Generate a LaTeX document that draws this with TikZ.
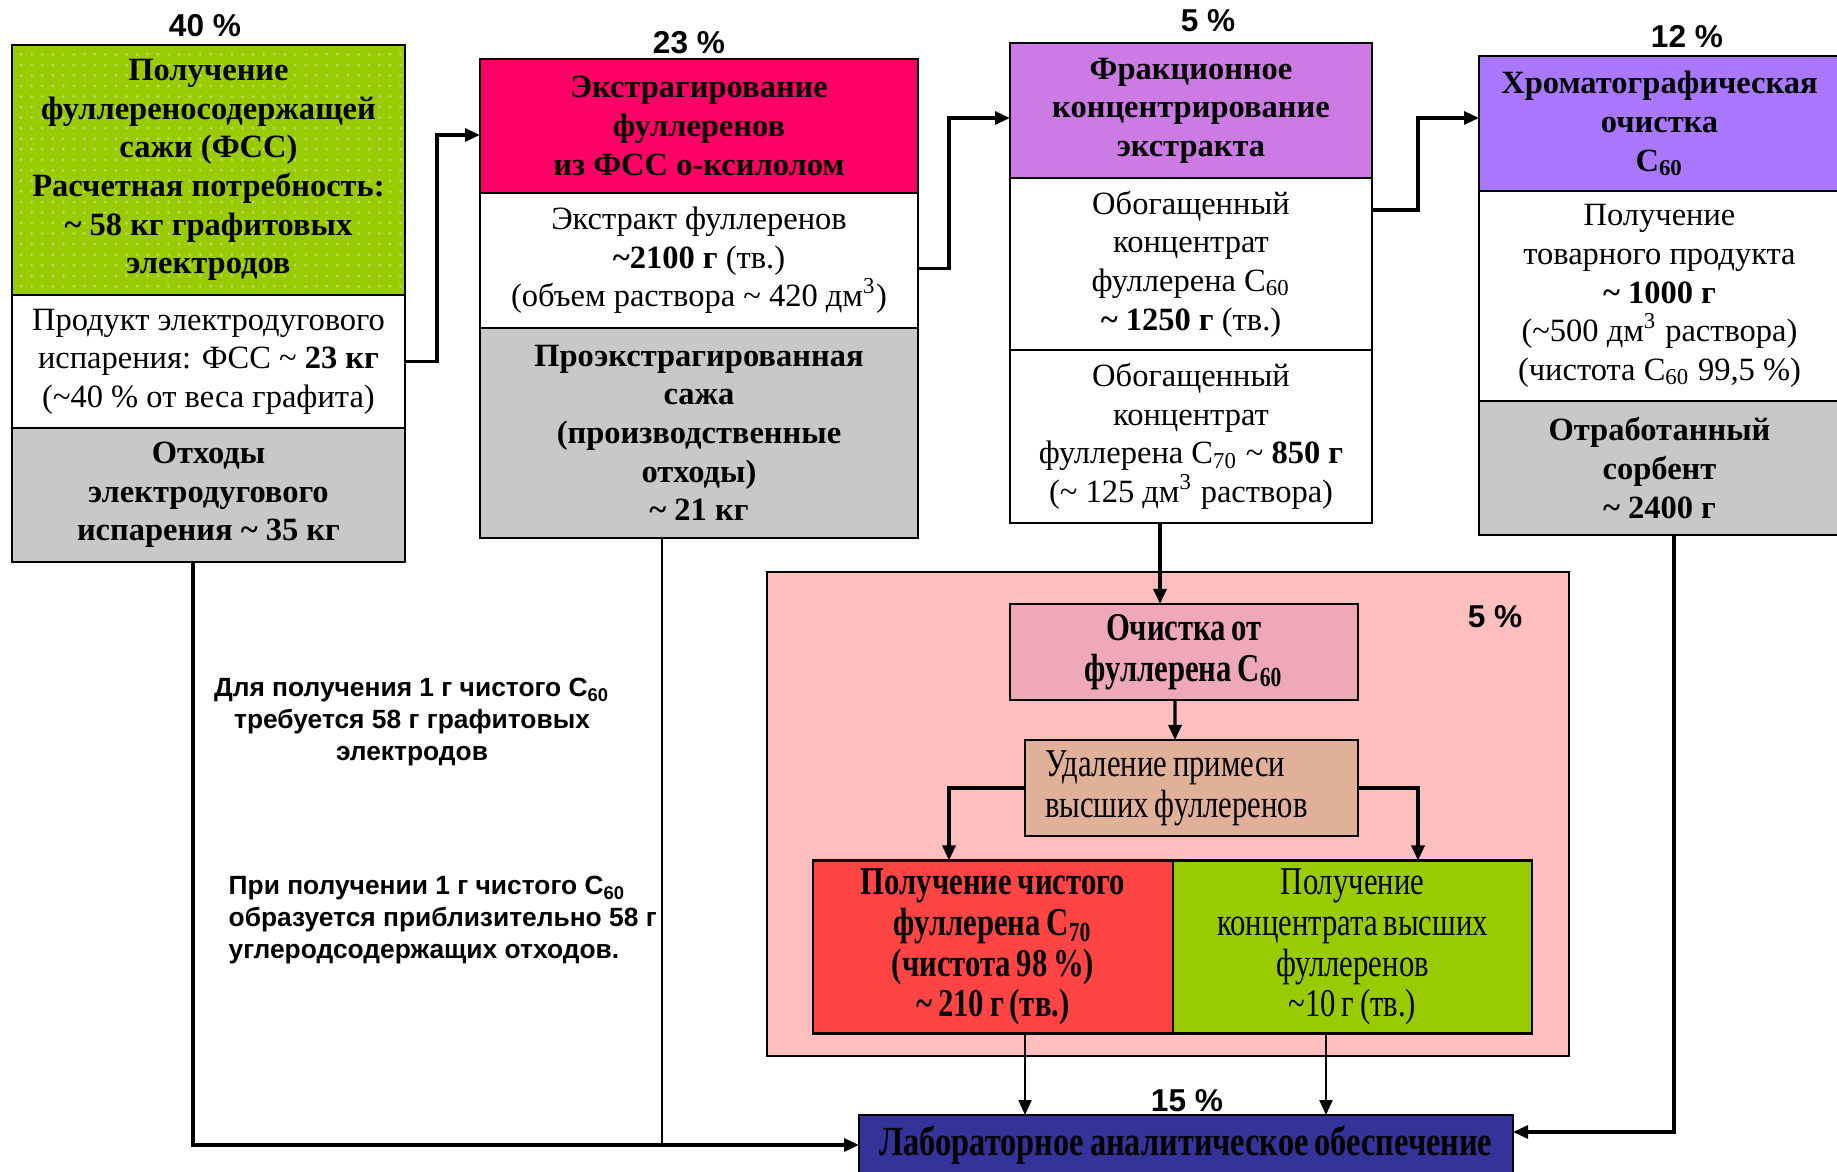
\documentclass[tikz,border=0pt]{standalone}
\usepackage{fontspec}
\setmainfont{Liberation Serif}
\setsansfont{Liberation Sans}
\newfontfamily\narrowfont[FakeStretch=0.78,WordSpace=0.75]{Liberation Serif}
\usetikzlibrary{arrows.meta,patterns,positioning}
\definecolor{fssgreen}{RGB}{153,204,0}
\definecolor{dotgreen}{RGB}{185,215,95}
\definecolor{extrred}{RGB}{255,0,102}
\definecolor{fraclilac}{RGB}{204,122,228}
\definecolor{chromviolet}{RGB}{170,120,255}
\definecolor{wastegray}{RGB}{200,200,200}
\definecolor{zonepink}{RGB}{255,191,191}
\definecolor{cleanpink}{RGB}{238,168,184}
\definecolor{removetan}{RGB}{224,176,152}
\definecolor{purered}{RGB}{255,68,68}
\definecolor{labblue}{RGB}{51,51,153}
\newcommand{\apx}{\textasciitilde}

\begin{document}
\begin{tikzpicture}[x=0.1mm,y=-0.1mm,
    box/.style={draw,line width=0.6pt,align=center,inner sep=0pt,outer sep=0pt,font=\fontsize{9.25}{11}\selectfont},
    head/.style={box,font=\fontsize{9.25}{11}\selectfont\bfseries},
    narrowbox/.style={box,font=\narrowfont\fontsize{11.2}{11.6}\selectfont},
    narrowhead/.style={box,font=\narrowfont\fontsize{11.2}{11.6}\selectfont\bfseries},
    pct/.style={font=\sffamily\bfseries\fontsize{9}{10}\selectfont},
    note/.style={inner sep=0pt,font=\sffamily\bfseries\fontsize{7.5}{9}\selectfont},
    flow/.style={-{Triangle[length=1.5mm,width=1.3mm]},line width=0.9pt},
    thinflow/.style={flow,line width=0.6pt}]
\useasboundingbox (0,0) rectangle (1837,1172);

\node[head,preaction={fill=fssgreen},pattern=dots,pattern color=dotgreen,minimum width=39.3mm,minimum height=25mm] (fss) at (208.5,170)
    {Получение\\фуллереносодержащей\\сажи (ФСС)\\Расчетная потребность:\\\apx{} 58 кг графитовых\\электродов};
\node[box,fill=white,minimum width=39.3mm,minimum height=13.3mm,below=0pt of fss] (fssprod)
    {Продукт электродугового\\испарения: ФСС \apx{} \textbf{23 кг}\\(\apx40 \% от веса графита)};
\node[head,fill=wastegray,minimum width=39.3mm,minimum height=13.4mm,below=0pt of fssprod] (fsswaste)
    {Отходы\\электродугового\\испарения \apx{} 35 кг};

\node[head,fill=extrred,minimum width=43.8mm,minimum height=13.4mm] (extr) at (699,126)
    {Экстрагирование\\фуллеренов\\из ФСС о-ксилолом};
\node[box,fill=white,minimum width=43.8mm,minimum height=13.5mm,below=0pt of extr] (extrprod)
    {Экстракт фуллеренов\\\textbf{\apx2100 г} (тв.)\\(объем раствора \apx{} 420 дм\textsuperscript{3})};
\node[head,fill=wastegray,minimum width=43.8mm,minimum height=21mm,below=0pt of extrprod] (extrwaste)
    {Проэкстрагированная\\сажа\\(производственные\\отходы)\\\apx{} 21 кг};

\node[head,fill=fraclilac,minimum width=36.2mm,minimum height=13.5mm] (frac) at (1191,110.5)
    {Фракционное\\концентрирование\\экстракта};
\node[box,fill=white,minimum width=36.2mm,minimum height=17.2mm,below=0pt of frac] (fracc60)
    {Обогащенный\\концентрат\\фуллерена C\textsubscript{60}\\\textbf{\apx{} 1250 г} (тв.)};
\node[box,fill=white,minimum width=36.2mm,minimum height=17.3mm,below=0pt of fracc60] (fracc70)
    {Обогащенный\\концентрат\\фуллерена C\textsubscript{70} \apx{} \textbf{850 г}\\(\apx{} 125 дм\textsuperscript{3} раствора)};

\node[head,fill=chromviolet,minimum width=36.1mm,minimum height=13.5mm] (chrom) at (1659.5,123.5)
    {Хроматографическая\\очистка\\C\textsubscript{60}};
\node[box,fill=white,minimum width=36.1mm,minimum height=21mm,below=0pt of chrom] (chromprod)
    {Получение\\товарного продукта\\\textbf{\apx{} 1000 г}\\(\apx500 дм\textsuperscript{3} раствора)\\(чистота C\textsubscript{60} 99,5 \%)};
\node[head,fill=wastegray,minimum width=36.1mm,minimum height=13.4mm,below=0pt of chromprod] (chromwaste)
    {Отработанный\\сорбент\\\apx{} 2400 г};

\node[pct] (p40) at (205,26) {40 \%};
\node[pct] (p23) at (689,43) {23 \%};
\node[pct] (p5a) at (1208,21) {5 \%};
\node[pct] (p12) at (1687,37) {12 \%};

\node[draw,line width=0.6pt,fill=zonepink,minimum width=80.2mm,minimum height=48.4mm] (zone) at (1168,814) {};
\node[pct] (p5b) at (1495,617) {5 \%};
\node[narrowhead,fill=cleanpink,minimum width=34.8mm,minimum height=9.6mm] (clean) at (1184,652)
    {Очистка от\\фуллерена C\textsubscript{60}};
\node[narrowbox,fill=removetan,minimum width=33.3mm,minimum height=9.6mm,align=flush left,text width=29.3mm] (remove) at (1191.5,788)
    {Удаление примеси\\высших фуллеренов};
\node[narrowhead,fill=purered,minimum width=36mm,minimum height=17.3mm] (pure) at (993,947)
    {Получение чистого\\фуллерена C\textsubscript{70}\\(чистота 98 \%)\\\apx{} 210 г (тв.)};
\node[narrowbox,fill=fssgreen,minimum width=35.9mm,minimum height=17.3mm] (higher) at (1352.5,947)
    {Получение\\концентрата высших\\фуллеренов\\\apx10 г (тв.)};

\node[narrowhead,fill=labblue,minimum width=65.4mm,minimum height=6mm,font=\narrowfont\fontsize{11.8}{12}\selectfont\bfseries] (lab) at (1186,1145)
    {Лабораторное аналитическое обеспечение};
\node[pct] (p15) at (1187,1101) {15 \%};

\node[note,align=center] (need) at (412,722)
    {Для получения 1 г чистого C\textsubscript{60}\\требуется 58 г графитовых\\электродов};
\node[note,align=left,anchor=west] (waste) at (228,920)
    {При получении 1 г чистого C\textsubscript{60}\\образуется приблизительно 58 г\\углеродсодержащих отходов.};

\draw[flow] (fssprod.east) -- ++(32,0) |- ([yshift=-0.9mm]extr.west);
\draw[flow] ([yshift=-0.8mm]extrprod.east) -- ++(31,0) |- ([yshift=-0.75mm]frac.west);
\draw[flow] ([yshift=5.4mm]fracc60.east) -- ++(46,0) |- ([yshift=0.55mm]chrom.west);
\draw[flow] ([xshift=-3.1mm]fracc70.south) -- ([xshift=-2.4mm]clean.north);
\draw[flow] ([xshift=-0.9mm]clean.south) -- ([xshift=-1.65mm]remove.north);
\draw[flow] (remove.west) -| ([xshift=-4.4mm]pure.north);
\draw[flow] (remove.east) -| ([xshift=6.55mm]higher.north);
\draw[thinflow] ([xshift=3.2mm]pure.south) -- ([xshift=3.2mm]pure.south |- lab.north);
\draw[thinflow] ([xshift=-2.65mm]higher.south) -- ([xshift=-2.65mm]higher.south |- lab.north);
\draw[flow] ([xshift=-1.55mm]fsswaste.south) |- (lab.west);
\draw[line width=0.6pt] ([xshift=-3.7mm]extrwaste.south) -- ([xshift=-3.7mm]extrwaste.south |- lab.west);
\draw[flow] ([xshift=1.45mm]chromwaste.south) |- ([yshift=1.3mm]lab.east);
\end{tikzpicture}
\end{document}
